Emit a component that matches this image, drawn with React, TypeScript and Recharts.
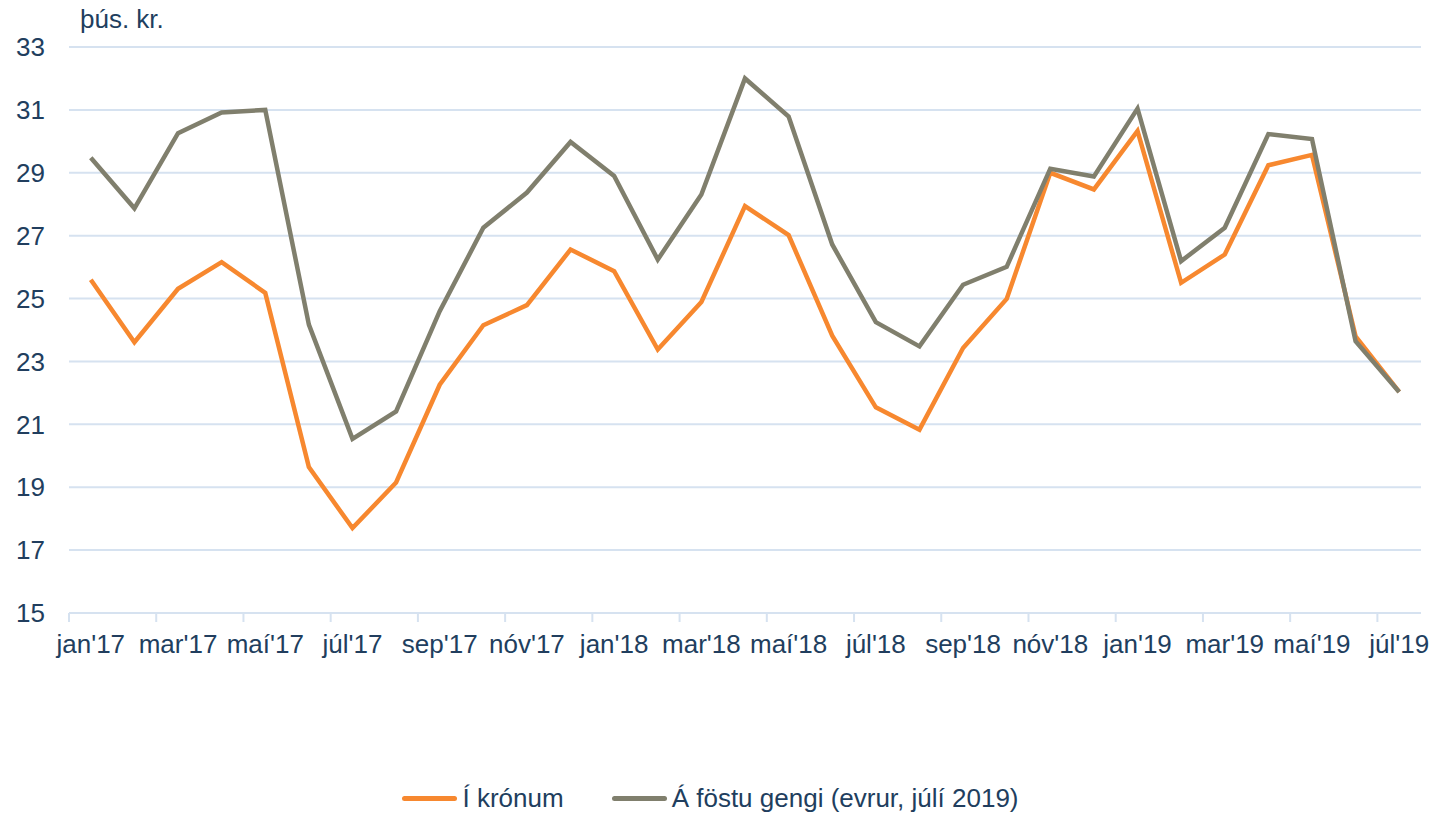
import React from 'react';
import { LineChart, Line, XAxis, YAxis, CartesianGrid, Legend } from 'recharts';

const months = [
  "jan'17", "feb'17", "mar'17", "apr'17", "maí'17", "jún'17", "júl'17", "ágú'17", "sep'17", "okt'17", "nóv'17", "des'17",
  "jan'18", "feb'18", "mar'18", "apr'18", "maí'18", "jún'18", "júl'18", "ágú'18", "sep'18", "okt'18", "nóv'18", "des'18",
  "jan'19", "feb'19", "mar'19", "apr'19", "maí'19", "jún'19", "júl'19",
];

const iKronum = [
  25.6, 23.61, 25.31, 26.16, 25.18, 19.64, 17.7, 19.15, 22.26, 24.15, 24.79, 26.56,
  25.87, 23.38, 24.89, 27.94, 27.02, 23.82, 21.54, 20.83, 23.43, 24.99, 29.0, 28.47,
  30.33, 25.5, 26.4, 29.24, 29.57, 23.8, 22.03,
];

const aFostuGengi = [
  29.48, 27.87, 30.26, 30.92, 31.0, 24.17, 20.54, 21.41, 24.6, 27.25, 28.37, 29.98,
  28.9, 26.24, 28.31, 32.0, 30.79, 26.72, 24.25, 23.48, 25.44, 26.01, 29.13, 28.88,
  31.04, 26.19, 27.25, 30.23, 30.07, 23.64, 22.03,
];

const yTicks = [15, 17, 19, 21, 23, 25, 27, 29, 31, 33];

const seriesNames = ['Í krónum', 'Á föstu gengi (evrur, júlí 2019)'];
const unitLabel = 'þús. kr.';

const data = months.map((m, i) => ({ month: m, kronum: iKronum[i], fostu: aFostuGengi[i] }));

const W = 1435;
const H = 815;
const PLOT_LEFT = 69;
const PLOT_RIGHT = 1421;
const HALF_BAND = (PLOT_RIGHT - PLOT_LEFT) / months.length / 2;

const FONT = '"Liberation Sans", Arial, Helvetica, sans-serif';
const TEXT = '#213E5E';
const GRID = '#D6E2F0';
const ORANGE = '#F7882F';
const GRAY = '#807F6D';

const XTick = (props: any) => {
  const { x, y, payload } = props;
  return (
    <g>
      <line x1={x - HALF_BAND} x2={x - HALF_BAND} y1={y} y2={y + 9} stroke={GRID} strokeWidth={2} />
      <text x={x} y={y + 40} textAnchor="middle" fill={TEXT} fontSize={26} fontFamily={FONT}>
        {payload.value}
      </text>
    </g>
  );
};

const LegendContent = () => {
  const items = [
    { name: seriesNames[0], color: ORANGE },
    { name: seriesNames[1], color: GRAY },
  ];
  return (
    <div
      style={{
        display: 'flex',
        justifyContent: 'center',
        alignItems: 'center',
        gap: 48,
        paddingRight: 14,
        fontFamily: FONT,
        fontSize: 26,
        lineHeight: '30px',
        color: TEXT,
      }}
    >
      {items.map((it) => (
        <div key={it.name} style={{ display: 'flex', alignItems: 'center' }}>
          <div style={{ width: 55, height: 5, borderRadius: 3, background: it.color, marginRight: 5 }} />
          <span>{it.name}</span>
        </div>
      ))}
    </div>
  );
};

export default function App() {
  return (
    <div style={{ position: 'absolute', left: 0, top: 0, width: W, height: H, background: '#fff' }}>
      <div
        style={{
          position: 'absolute',
          left: 80,
          top: 6,
          fontFamily: FONT,
          fontSize: 26,
          lineHeight: '26px',
          color: TEXT,
          whiteSpace: 'nowrap',
        }}
      >
        {unitLabel}
      </div>
      <LineChart width={W} height={H} data={data} margin={{ top: 47, right: W - PLOT_RIGHT, bottom: 142, left: 0 }}>
        <CartesianGrid vertical={false} stroke={GRID} strokeWidth={2} />
        <XAxis
          dataKey="month"
          interval={1}
          height={60}
          tickSize={0}
          tickMargin={0}
          tickLine={false}
          axisLine={{ stroke: GRID, strokeWidth: 2 }}
          padding={{ left: HALF_BAND, right: HALF_BAND }}
          tick={<XTick />}
        />
        <YAxis
          domain={[15, 33]}
          ticks={yTicks}
          width={PLOT_LEFT}
          tickSize={0}
          tickMargin={24}
          axisLine={false}
          tickLine={false}
          tick={{ fill: TEXT, fontSize: 26, fontFamily: FONT }}
        />
        <Legend
          verticalAlign="middle"
          align="center"
          layout="horizontal"
          content={<LegendContent />}
          wrapperStyle={{ top: 783, left: 0, width: W }}
        />
        <Line
          type="linear"
          dataKey="kronum"
          name={seriesNames[0]}
          stroke={ORANGE}
          strokeWidth={4.5}
          dot={false}
          isAnimationActive={false}
        />
        <Line
          type="linear"
          dataKey="fostu"
          name={seriesNames[1]}
          stroke={GRAY}
          strokeWidth={4.5}
          dot={false}
          isAnimationActive={false}
        />
      </LineChart>
    </div>
  );
}
